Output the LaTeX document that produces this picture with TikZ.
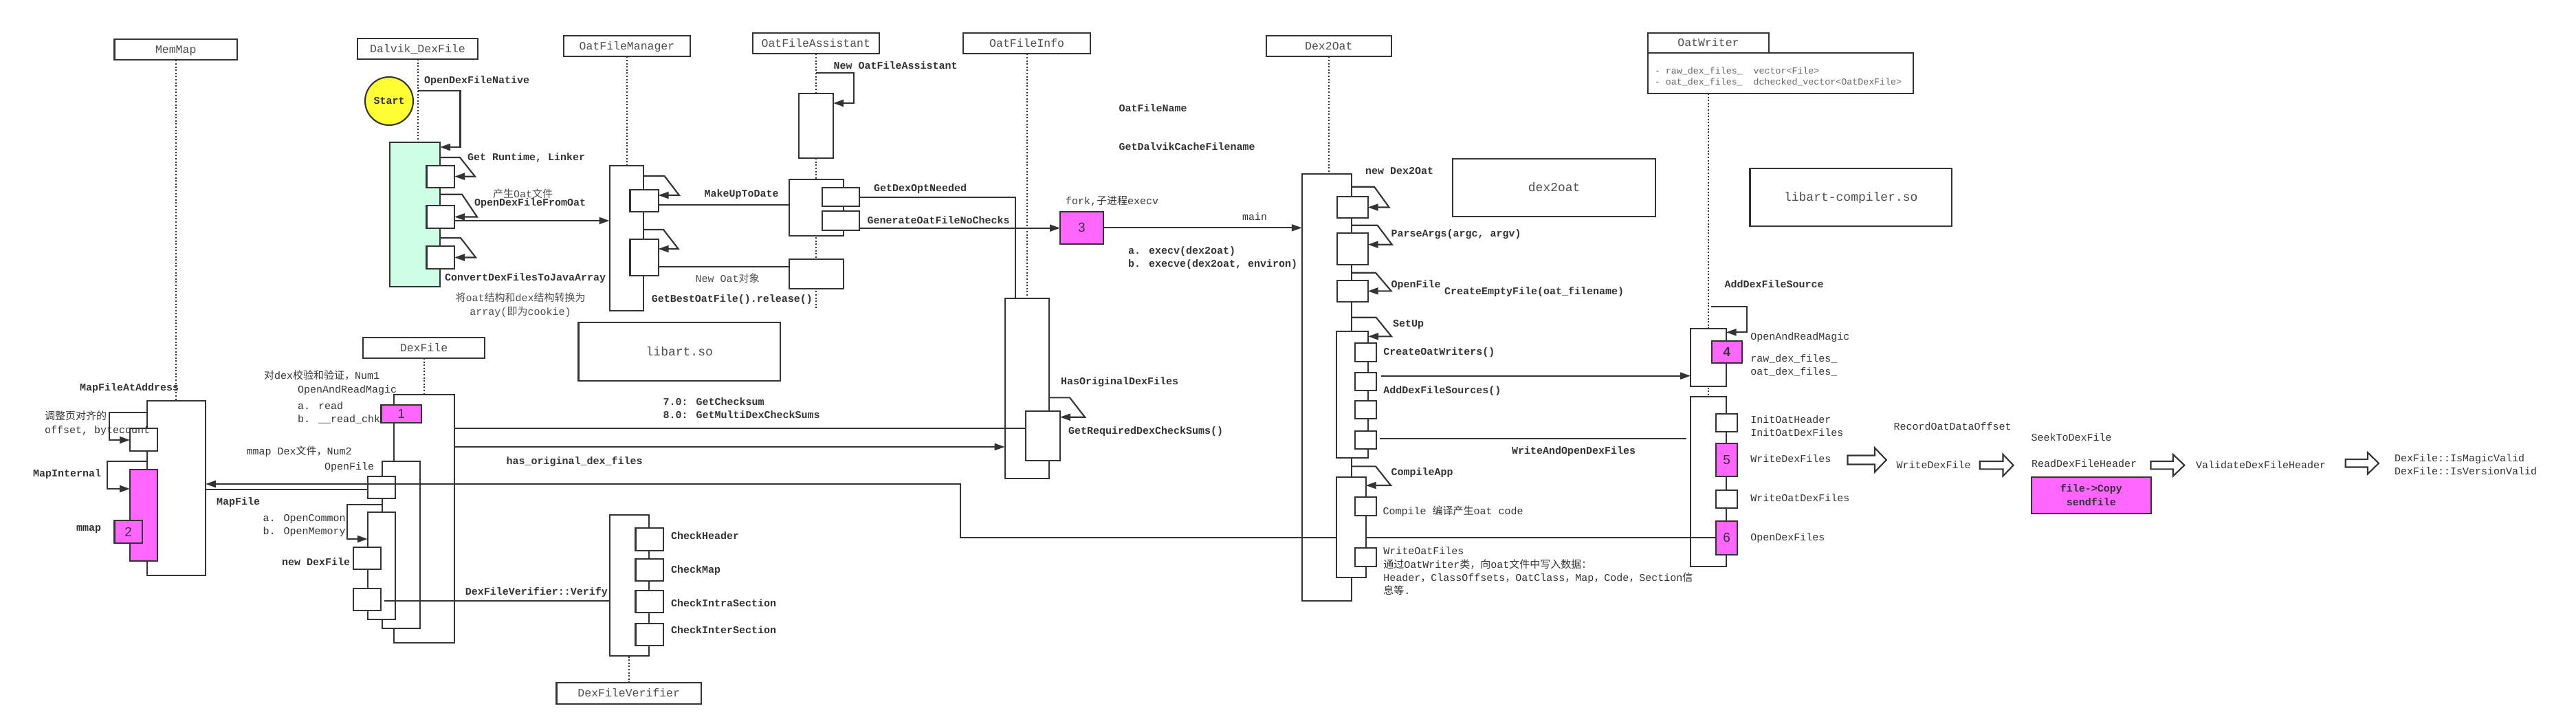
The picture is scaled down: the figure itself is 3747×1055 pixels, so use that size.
\documentclass[tikz,border=0pt]{standalone}
\usepackage{fontspec}
\setmainfont{Liberation Mono}
\newfontfamily\cjk{Noto Sans CJK SC}
\newfontfamily\sansnum{Liberation Sans}
\usetikzlibrary{arrows.meta,calc}
\definecolor{ln}{HTML}{333333}
\definecolor{pinkf}{HTML}{FF66FF}
\definecolor{mintf}{HTML}{CCFFE6}
\definecolor{sunf}{HTML}{FFFF33}
\definecolor{tgray}{HTML}{4D4D4D}
\definecolor{agray}{HTML}{666666}
\newcommand\C[1]{{\cjk #1}}
\newcommand\bx[7][]{\node[box,#1,minimum width={(#4)-(#2)},minimum height={(#5)-(#3)},anchor=north west] (#6) at (#2,#3) {#7};}
\newcommand\slf[4]{\draw[arr] (#1) -- ++(#3,0) -- ($(#2)+(#4,0)$) -- (#2);}
\newcommand\barrow[7]{\draw[blk] (#2,#5-#7) -- (#3,#5-#7) -- (#3,#5-#6) -- (#4,#5) -- (#3,#5+#6) -- (#3,#5+#7) -- (#2,#5+#7) -- cycle; \coordinate (#1) at (#2,#5);}
\tikzset{
 box/.style={draw=ln,line width=2.1pt,fill=white,inner sep=0pt,outer sep=0pt},
 title/.style={font=\fontsize{16.5}{18}\selectfont,text=tgray,text height=10.5pt,text depth=0pt},
 modbox/.style={font=\fontsize{18}{20}\selectfont,text=tgray,text height=11pt,text depth=0pt},
 pk/.style={fill=pinkf},
 numf/.style={font=\sansnum\fontsize{19}{20}\selectfont,text=ln,text height=13pt,text depth=0pt},
 lb/.style={inner sep=0pt,outer sep=0pt,anchor=west,text=ln,text height=10pt,text depth=0pt,font=\fontsize{15}{17}\selectfont\bfseries},
 lr/.style={lb,font=\fontsize{15}{17}\selectfont},
 lg/.style={lr,text=tgray},
 life/.style={draw=ln,line width=2pt,dash pattern=on 2pt off 2.6pt},
 msg/.style={draw=ln,line width=2.1pt},
 arr/.style={msg,-{Triangle[length=15pt,width=10pt]}},
 blk/.style={draw=ln,line width=2.1pt,fill=white,line join=miter},
}
\begin{document}
\begin{tikzpicture}[x=1pt,y=-1pt]
\useasboundingbox[fill=white] (0,0) rectangle (3747,1055);

% ---------- titles ----------
\bx[title]{166.5}{56.7}{345}{87.3}{mmT}{MemMap}
\bx[title]{520}{55.7}{695}{86}{dvT}{Dalvik\_DexFile}
\bx[title]{820}{51.7}{1004}{82.3}{omT}{OatFileManager}
\bx[title]{1094.6}{47.7}{1279}{78.3}{oaT}{OatFileAssistant}
\bx[title]{1401.3}{47.7}{1586}{78.3}{oiT}{OatFileInfo}
\bx[title]{1842}{51.7}{2023.6}{82.3}{d2T}{Dex2Oat}
\bx[title]{2397}{47.7}{2573}{77.3}{owT}{OatWriter}
\bx{2397}{77.3}{2783}{136}{owAt}{}
\node[lr,font=\fontsize{13.3}{15}\selectfont,text=agray] (tat1) at (2407,102) {- raw\_dex\_files\_\ \ vector<File>};
\node[lr,font=\fontsize{13.3}{15}\selectfont,text=agray] (tat2) at (2407,118.3) {- oat\_dex\_files\_\ \ dchecked\_vector<OatDexFile>};
\bx[title]{528}{490.7}{705}{521}{dfT}{DexFile}
\bx[title]{809.5}{993.3}{1020}{1024}{dvfT}{DexFileVerifier}

\bx[modbox]{841.5}{469.3}{1135}{554.3}{libA}{libart.so}
\bx[modbox]{2113.4}{230.7}{2408}{315}{d2oB}{dex2oat}
\bx[modbox]{2545.5}{245}{2839}{329}{libC}{libart-compiler.so}

% ---------- lifelines ----------
\coordinate (mmE) at (256,583);
\coordinate (dvE) at (607,207);
\coordinate (omE) at (912,240.7);
\coordinate (oaE) at (1186.6,448);
\coordinate (oiE) at (1493.75,434);
\coordinate (d2E) at (1932.6,252.7);
\coordinate (owE) at (2484.8,576.7);
\coordinate (dfE) at (615.2,574);
\coordinate (dvfE) at (914.75,954);
\draw[life] (mmT.south) -- (mmT.south |- mmE);
\draw[life] (dvT.south) -- (dvT.south |- dvE);
\draw[life] (omT.south) -- (omT.south |- omE);
\draw[life] (oaT.south) -- (oaT.south |- oaE);
\draw[life] (oiT.south) -- (oiT.south |- oiE);
\draw[life] (d2T.south) -- (d2T.south |- d2E);
\draw[life] (owT.south |- owAt.south) -- (owT.south |- owE);
\draw[life] (dfT.south) -- (dfT.south |- dfE);
\draw[life] (dvfT.north) -- (dvfT.north |- dvfE);

% ---------- MemMap ----------
\bx{214}{583}{299}{837}{mmA}{}
\bx{189}{623}{229}{656}{mmS1}{}
\bx[pk]{189}{683}{229}{816}{mmP}{}
\bx[pk,numf]{166.5}{757}{207}{790}{p2}{2}

% ---------- Dalvik_DexFile ----------
\node[draw=ln,line width=2.1pt,fill=sunf,circle,minimum size=70pt,inner sep=0pt,font=\fontsize{15}{17}\selectfont\bfseries,text=ln] (start) at (566,147) {Start};
\bx[fill=mintf]{567}{207}{640}{417}{dvA}{}
\bx{620.5}{240.7}{661}{272.7}{dvS1}{}
\bx{620.5}{299}{661}{332}{dvS2}{}
\bx{620.5}{358}{661}{391}{dvS3}{}

% ---------- OatFileManager ----------
\bx{886.6}{240.7}{936}{451.7}{omA}{}
\bx{916.5}{275.7}{957.6}{307.7}{omS1}{}
\bx{916.5}{348}{957.6}{400.7}{omS2}{}

% ---------- OatFileAssistant ----------
\bx{1161.6}{136}{1212}{230}{oaA1}{}
\bx{1147.8}{260.7}{1226.8}{343.3}{oaA2}{}
\bx{1196.4}{272.7}{1250}{300}{oaSa}{}
\bx{1196.4}{307}{1250}{335}{oaSb}{}
\bx{1147.8}{376.7}{1226.8}{420}{oaA3}{}

% ---------- OatFileInfo ----------
\bx{1461.6}{434}{1526.3}{696}{oiA}{}
\bx{1492}{597.7}{1542}{670}{oiS}{}
\bx[pk,numf]{1542}{307.7}{1605}{355}{p3}{3}

% ---------- DexFile ----------
\bx{572.8}{574}{660.7}{935}{dfA}{}
\bx[pk,numf]{554.5}{589.3}{613}{615}{p1}{1}
\bx{555.8}{670.7}{610.7}{914}{ofA}{}
\bx{534.8}{692.7}{575}{725}{dfS1}{}
\bx{534.8}{745}{575}{901}{ocA}{}
\bx{513.8}{796}{554}{828}{ndB}{}
\bx{513.8}{855.7}{554}{887.7}{vfB}{}

% ---------- DexFileVerifier ----------
\bx{886.6}{749.3}{943.8}{954}{dvfA}{}
\bx{924.5}{768}{965}{801}{ck1}{}
\bx{924.5}{812.7}{965}{845}{ck2}{}
\bx{924.5}{858.7}{965}{891.3}{ck3}{}
\bx{924.5}{906.7}{965}{939.3}{ck4}{}

% ---------- Dex2Oat outer ----------
\bx{1893.75}{252.7}{1965.6}{874.3}{d2A}{}
\bx{1944.6}{285.7}{1989.7}{317.3}{d2S1}{}
\bx{1944.6}{339}{1989.7}{385}{d2S2}{}
\bx{1944.6}{407.7}{1989.7}{439}{d2S3}{}

% ---------- OatWriter ----------
\bx{2459}{477.7}{2510.7}{562.3}{owA1}{}
\bx[pk,numf,font=\sansnum\bfseries\fontsize{19}{20}\selectfont]{2489.7}{495.7}{2534}{527.7}{p4}{4}
\bx{2459}{576.7}{2510.7}{824}{owA2}{}
\bx{2496.4}{601.7}{2527}{628.3}{owI1}{}
\bx[pk,numf]{2496.4}{645}{2527}{693.3}{p5}{5}
\bx{2496.4}{712.7}{2527}{739.3}{owI3}{}
\bx[pk,numf]{2496.4}{757.7}{2527}{806.7}{p6}{6}

% long return: OpenDexFiles -> MemMap
\coordinate (bend) at (1397,704);
\draw[arr] (p6.west) -| (bend) -- (mmA.east |- bend);

% ---------- Dex2Oat inner ----------
\bx{1944.4}{481.7}{1990}{665.7}{suA}{}
\bx{1971}{498.7}{2001.7}{526}{suB1}{}
\bx{1971}{541.7}{2001.7}{568.3}{suB2}{}
\bx{1971}{582.7}{2001.7}{609.3}{suB3}{}
\bx{1971}{626.7}{2001.7}{653.3}{suB4}{}
\bx{1944.4}{694}{1986.7}{840}{caA}{}
\bx{1971}{723.3}{2001.7}{750}{caC1}{}
\bx{1971}{797.3}{2001.7}{824.3}{caC2}{}

% ---------- self calls ----------
\draw[arr] (dvT.south |- 0,131.7) -- ++(62,0) |- (dvA.east |- 0,214);
\slf{dvA.east |- 0,229}{dvS1.east}{29}{30}
\slf{dvA.east |- 0,282.7}{dvS2.east}{32}{33}
\slf{dvA.east |- 0,346}{dvS3.east}{30}{31}
\slf{omA.east |- 0,256}{omS1.east |- 0,284}{30.5}{30.4}
\slf{omA.east |- 0,334}{omS2.east |- 0,362}{29}{29}
\draw[arr] (oaT.south |- 0,105.7) -- ++(55,0) |- (oaA1.east |- 0,150);
\slf{oiA.east |- 0,578.3}{oiS.east |- 0,606.7}{29.7}{36}
\slf{d2A.east |- 0,271.7}{d2S1.east}{33.4}{30.8}
\slf{d2A.east |- 0,327.7}{d2S2.east |- 0,355.7}{38}{35}
\slf{d2A.east |- 0,396.7}{d2S3.east}{35.4}{34}
\slf{d2A.east |- 0,461.7}{suA.east |- 0,489.3}{36}{34}
\slf{d2A.east |- 0,678.3}{caA.east |- 0,706}{35.4}{36.3}
\draw[arr] ($(owT.south |- 0,446)+(4,0)$) -- ++(52,0) |- (owA1.east |- 0,483.3);
\draw[arr] (mmA.west |- 0,600) -- ++(-55,0) |- (mmS1.west |- 0,640);
\draw[arr] (mmA.west |- 0,670.7) -- ++(-58,0) |- (mmP.west |- 0,711);
\draw[arr] (ofA.west |- 0,734) -- ++(-50.8,0) |- (ocA.west |- 0,784);

% ---------- messages ----------
\draw[arr] (dvS2.east |- 0,321) -- (omA.west |- 0,321);
\draw[msg] (omS1.east |- 0,297.7) -- (oaA2.west |- 0,297.7);
\draw[msg] (omS2.east |- 0,387.7) -- (oaA3.west |- 0,387.7);
\draw[msg] (oaSa.east |- 0,286.7) -| ($(oiA.north)+(-17,0)$);
\draw[arr] (oaSb.east |- 0,331.7) -- (p3.west |- 0,331.7);
\draw[arr] (p3.east) -- (d2A.west |- p3.east);
\draw[msg] (dfA.east |- 0,622.7) -- (oiS.west |- 0,622.7);
\draw[arr] (dfA.east |- 0,650) -- (oiA.west |- 0,650);
\draw[arr] ($(suB2.east |- 0,546.7)+(7,0)$) -- (owA1.west |- 0,546.7);
\draw[msg] ($(suB4.east |- 0,637.7)+(5,0)$) -- ($(owA2.west |- 0,637.7)+(-6,0)$);
\draw[msg] (mmA.east |- 0,712) -- (dfS1.west |- 0,712);
\draw[msg] ($(vfB.east |- 0,873.7)+(5,0)$) -- (dvfA.west |- 0,873.7);

% ---------- block arrows & right chain ----------
\barrow{ba1}{2687.5}{2727}{2743.75}{669}{17.5}{6.5}
\barrow{ba2}{2879.7}{2913.5}{2928.6}{676.7}{15.7}{5.7}
\barrow{ba3}{3128.5}{3161}{3177.4}{676.7}{15.7}{5.7}
\barrow{ba4}{3411.7}{3444}{3460}{673.8}{15.5}{5.7}
\bx[pk]{2954.6}{693.7}{3129}{746.7}{pcp}{}
\node[lb,anchor=center] (tCP1) at (pcp.center |- 0,710.7) {file->Copy};
\node[lb,anchor=center] (tCP2) at (pcp.center |- 0,730) {sendfile};

% ---------- labels ----------
\node[lb] (tODFN) at (617,116.7) {OpenDexFileNative};
\node[lb] (tGRL) at (680,228) {Get Runtime, Linker};
\node[lg] (tCS) at (717,282) {\C{产生}Oat\C{文件}};
\node[lb] (tODFO) at (690,294) {OpenDexFileFromOat};
\node[lb] (tCDF) at (647,403) {ConvertDexFilesToJavaArray};
\node[lg,anchor=center] (tJ1) at (757,433) {\C{将}oat\C{结构和}dex\C{结构转换为}};
\node[lg,anchor=center] (tJ2) at (757,453) {array(\C{即为}cookie)};
\node[lb] (tMUD) at (1024.5,281.7) {MakeUpToDate};
\node[lg] (tNO) at (1011.6,405) {New Oat\C{对象}};
\node[lb] (tGBO) at (947.8,434) {GetBestOatFile().release()};
\node[lb] (tNOA) at (1212.5,95.3) {New OatFileAssistant};
\node[lb] (tGDN) at (1271,273.3) {GetDexOptNeeded};
\node[lb] (tGOF) at (1261.6,320.7) {GenerateOatFileNoChecks};
\node[lr] (tFK) at (1550,292.3) {fork,\C{子进程}execv};
\node[lr] (tMN) at (1807,315.7) {main};
\node[lb] (tEX1) at (1641,364.3) {a. execv(dex2oat)};
\node[lb] (tEX2) at (1641,383.3) {b. execve(dex2oat, environ)};
\node[lb] (tOFN) at (1627.7,157.7) {OatFileName};
\node[lb] (tGDC) at (1627.7,213.3) {GetDalvikCacheFilename};
\node[lb] (tND) at (1986,248.7) {new Dex2Oat};
\node[lb] (tPA) at (2023.7,339) {ParseArgs(argc, argv)};
\node[lb] (tOF2) at (2023.7,413.3) {OpenFile};
\node[lb] (tCEF) at (2101,423.3) {CreateEmptyFile(oat\_filename)};
\node[lb] (tSU) at (2026,470.7) {SetUp};
\node[lb] (tCOW) at (2012.4,511.7) {CreateOatWriters()};
\node[lb] (tADS) at (2012.4,567.3) {AddDexFileSources()};
\node[lb] (tWAO) at (2199,655.7) {WriteAndOpenDexFiles};
\node[lb] (tCA) at (2023.5,686.7) {CompileApp};
\node[lr] (tCMP) at (2011.6,743.3) {Compile \C{编译产生}oat code};
\node[lr] (tWO1) at (2012.4,801.7) {WriteOatFiles};
\node[lr] (tWO2) at (2012.4,821) {\C{通过}OatWriter\C{类，向}oat\C{文件中写入数据：}};
\node[lr] (tWO3) at (2012.4,840) {Header\C{，}ClassOffsets\C{，}OatClass\C{，}Map\C{，}Code\C{，}Section\C{信}};
\node[lr] (tWO4) at (2012.4,859) {\C{息等}.};
\node[lb] (tADF) at (2508.5,413.3) {AddDexFileSource};
\node[lr] (tORM2) at (2546.4,489.3) {OpenAndReadMagic};
\node[lr] (tRDF) at (2546.4,521.7) {raw\_dex\_files\_};
\node[lr] (tODF) at (2546.4,540.7) {oat\_dex\_files\_};
\node[lr] (tIOH) at (2546.4,610.7) {InitOatHeader};
\node[lr] (tIOD) at (2546.4,629.3) {InitOatDexFiles};
\node[lr] (tWDF) at (2546.4,667.3) {WriteDexFiles};
\node[lr] (tWOD) at (2546.4,724.3) {WriteOatDexFiles};
\node[lr] (tODX) at (2546.4,781) {OpenDexFiles};
\node[lr] (tROD) at (2754.5,620.7) {RecordOatDataOffset};
\node[lr] (tWD1) at (2758.5,676.7) {WriteDexFile};
\node[lr] (tSTD) at (2954.6,636.7) {SeekToDexFile};
\node[lr] (tRDH) at (2955,674.3) {ReadDexFileHeader};
\node[lr] (tVDH) at (3194,676.7) {ValidateDexFileHeader};
\node[lr] (tIMV) at (3483,666.7) {DexFile::IsMagicValid};
\node[lr] (tIVV) at (3483,685.3) {DexFile::IsVersionValid};
\node[lb] (tHOD) at (1543,554.3) {HasOriginalDexFiles};
\node[lb] (tGRD) at (1554,626.7) {GetRequiredDexCheckSums()};
\node[lb] (tGC1) at (964.7,584.3) {7.0: GetChecksum};
\node[lb] (tGC2) at (964.7,603.3) {8.0: GetMultiDexCheckSums};
\node[lb] (tHAS) at (736.6,670.7) {has\_original\_dex\_files};
\node[lb] (tCH) at (976,779.3) {CheckHeader};
\node[lb] (tCM) at (976,828.3) {CheckMap};
\node[lb] (tCIA) at (976,877.7) {CheckIntraSection};
\node[lb] (tCIE) at (976,916.7) {CheckInterSection};
\node[lb,anchor=east] (tDVV) at (884,860) {DexFileVerifier::Verify};
\node[lb] (tMFA) at (116,563) {MapFileAtAddress};
\node[lr] (tAD1) at (65,605) {\C{调整页对齐的}};
\node[lr] (tAD2) at (65,625) {offset, bytecount};
\node[lb] (tMI) at (48,688) {MapInternal};
\node[lb] (tMM) at (111,767) {mmap};
\node[lb] (tMF) at (315,729) {MapFile};
\node[lr] (tN1) at (384,546.7) {\C{对}dex\C{校验和验证，}Num1};
\node[lr] (tORM) at (433,566.7) {OpenAndReadMagic};
\node[lr] (tRA) at (433,590) {a. read};
\node[lr] (tRB) at (433,609.3) {b. \_\_read\_chk};
\node[lr] (tN2) at (358.5,656.7) {mmap Dex\C{文件，}Num2};
\node[lr] (tOPF) at (472,678.3) {OpenFile};
\node[lr] (tOC) at (382.6,753.3) {a. OpenCommon};
\node[lr] (tOM) at (382.6,772.7) {b. OpenMemory};
\node[lb] (tNDF) at (410,817.3) {new DexFile};
\end{tikzpicture}
\end{document}
